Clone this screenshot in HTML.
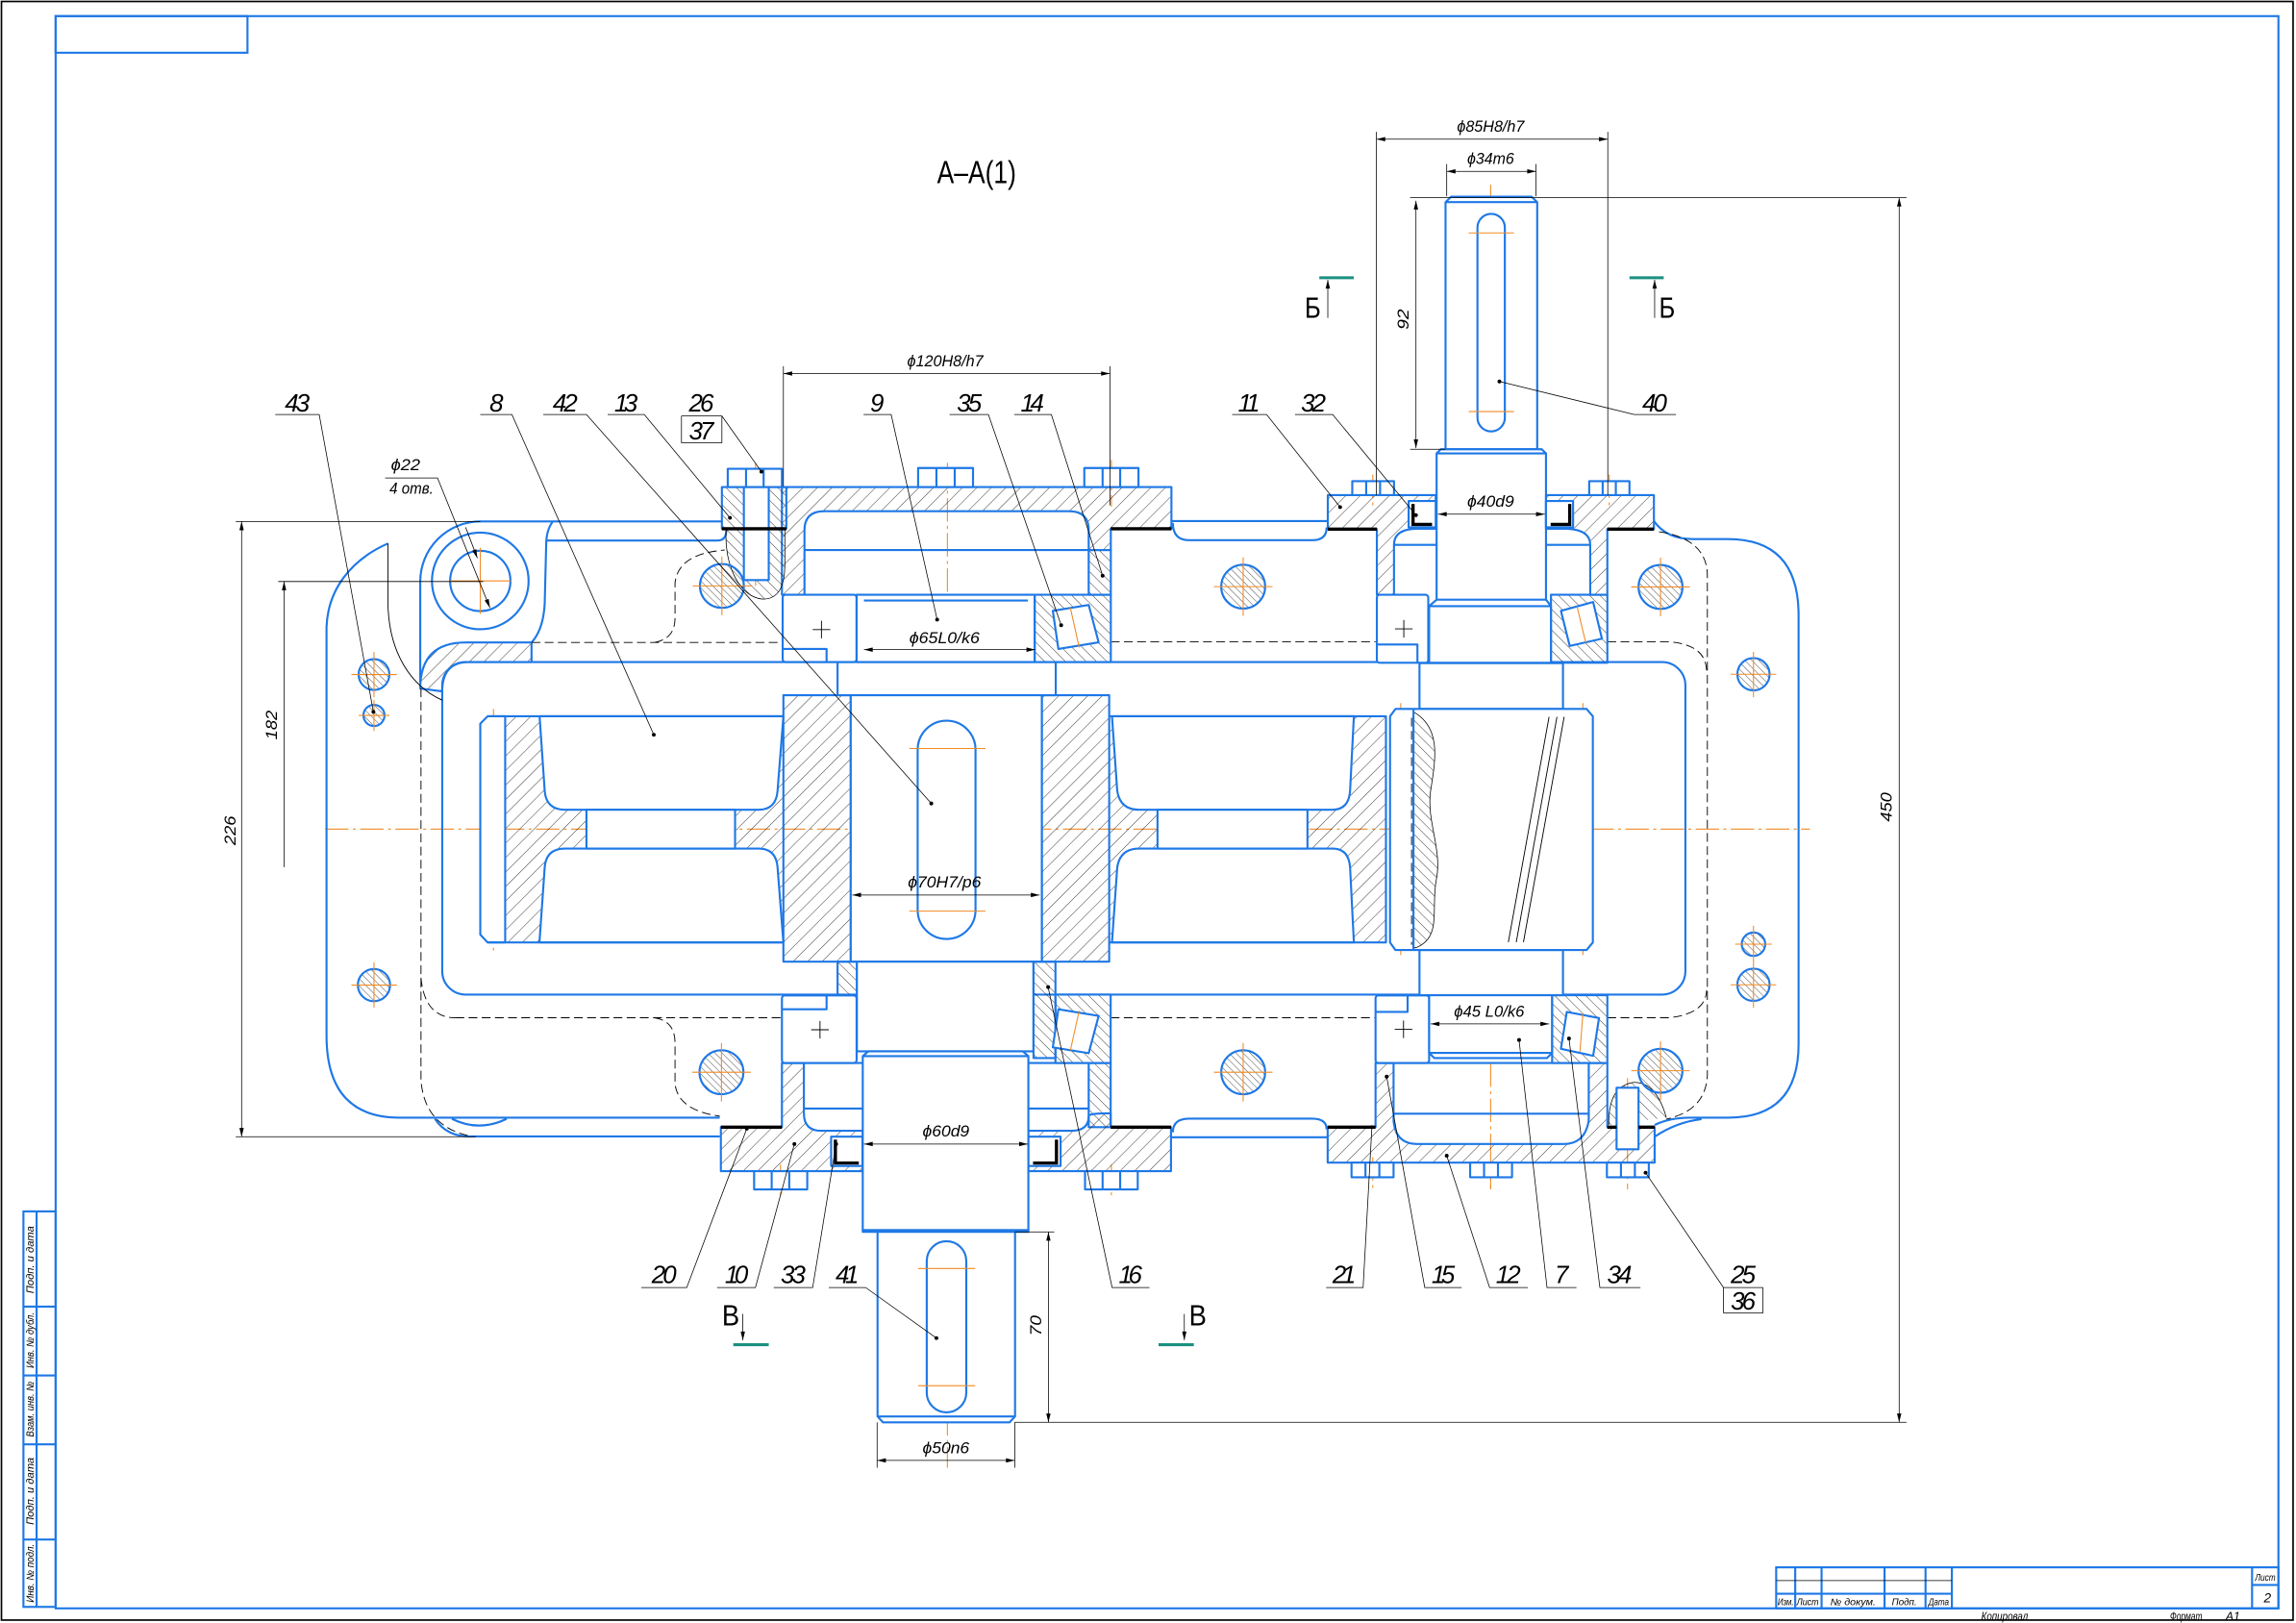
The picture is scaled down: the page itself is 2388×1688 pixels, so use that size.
<!DOCTYPE html>
<html><head><meta charset="utf-8"><style>
html,body{margin:0;padding:0;background:#fff;}
svg{display:block}
text{font-family:"Liberation Sans","DejaVu Sans",sans-serif;font-style:italic;fill:#000}
.u{font-style:normal}
</style></head><body>
<svg width="2388" height="1688" viewBox="0 0 1568 1108" preserveAspectRatio="none" xmlns="http://www.w3.org/2000/svg">
<defs>
<pattern id="h1" patternUnits="userSpaceOnUse" width="7" height="7" patternTransform="rotate(45)"><line x1="0" y1="0" x2="0" y2="7" stroke="#000" stroke-width="0.5"/></pattern>
<pattern id="h2" patternUnits="userSpaceOnUse" width="5" height="5" patternTransform="rotate(-45)"><line x1="0" y1="0" x2="0" y2="5" stroke="#000" stroke-width="0.5"/></pattern>
<pattern id="h3" patternUnits="userSpaceOnUse" width="3.4" height="3.4" patternTransform="rotate(-45)"><line x1="0" y1="0" x2="0" y2="3.4" stroke="#000" stroke-width="0.45"/></pattern>
<marker id="a" viewBox="0 0 8 4" refX="8" refY="2" markerWidth="6.5" markerHeight="3" markerUnits="userSpaceOnUse" orient="auto-start-reverse"><path d="M0,0L8,2L0,4z" fill="#000"/></marker>
</defs>

<!-- FRAME -->
<rect x="1" y="1" width="1565" height="1105" fill="none" stroke="#000" stroke-width="1.1"/>
<g fill="none" stroke="#1e78e6" stroke-width="1.4">
<rect x="38" y="11" width="1518" height="1087"/>
<rect x="38" y="11" width="131" height="25"/>
<rect x="16" y="827" width="22" height="270"/>
<path d="M25,827V1097M16,892H38M16,939H38M16,986H38M16,1051H38"/>
<rect x="1213" y="1070" width="343" height="28"/>
<path d="M1226,1070V1098M1244,1070V1098M1287,1070V1098M1315,1070V1098M1333,1070V1098M1538,1070V1098M1213,1088H1333M1538,1082H1556"/>
</g>
<path d="M1213,1079H1333" stroke="#000" stroke-width="0.5"/>
<g font-size="6.5">
<text x="1214" y="1096" textLength="11" lengthAdjust="spacingAndGlyphs">Изм.</text>
<text x="1227" y="1096" textLength="15" lengthAdjust="spacingAndGlyphs">Лист</text>
<text x="1250" y="1096" textLength="31" lengthAdjust="spacingAndGlyphs">№ докум.</text>
<text x="1292" y="1096" textLength="17" lengthAdjust="spacingAndGlyphs">Подп.</text>
<text x="1317" y="1096" textLength="14" lengthAdjust="spacingAndGlyphs">Дата</text>
<text x="1540" y="1079" textLength="14" lengthAdjust="spacingAndGlyphs">Лист</text>
</g>
<text x="1546" y="1094" font-size="9">2</text>
<text x="1353" y="1106" font-size="8" textLength="32" lengthAdjust="spacingAndGlyphs">Копировал</text>
<text x="1482" y="1106" font-size="8" textLength="22" lengthAdjust="spacingAndGlyphs">Формат</text>
<text x="1520" y="1106" font-size="8">A1</text>
<g font-size="7">
<text transform="translate(23,860) rotate(-90)" text-anchor="middle" textLength="46" lengthAdjust="spacingAndGlyphs">Подп. и дата</text>
<text transform="translate(23,915) rotate(-90)" text-anchor="middle" textLength="38" lengthAdjust="spacingAndGlyphs">Инв. № дубл.</text>
<text transform="translate(23,962) rotate(-90)" text-anchor="middle" textLength="38" lengthAdjust="spacingAndGlyphs">Взам. инв. №</text>
<text transform="translate(23,1018) rotate(-90)" text-anchor="middle" textLength="46" lengthAdjust="spacingAndGlyphs">Подп. и дата</text>
<text transform="translate(23,1074) rotate(-90)" text-anchor="middle" textLength="40" lengthAdjust="spacingAndGlyphs">Инв. № подл.</text>
</g>

<!-- CENTERLINES -->
<g stroke="#f08a24" stroke-width="0.7" fill="none" stroke-dasharray="16 3 2 3">
<path d="M222,566H1236"/>
<path d="M647,316V1002"/>
<path d="M1018,126V812"/>
<path d="M337,484V650M956.6,480V652M1081,480V652M452,538V592M843,538V592"/>
<path d="M516,316V400M759,314V346M937.5,324V346M1099,324V346M533,795V816M759,795V816M937.5,790V812M1018,790V812M1111.5,736V812"/>
</g>

<!-- HOUSING OUTLINES -->
<g fill="none" stroke="#1e78e6" stroke-width="1.4" stroke-linejoin="round">
<path d="M265,371C240,382 224,402 223,428L223,707Q223,763 273,763L491.5,763"/>
<path d="M297,763.8Q305,775.8 320.3,775.8L491.5,775.8"/>
<path d="M308.6,763.8Q327,773 346,763.8"/>
<path d="M287,466L287,397A41,41 0 0 1 328,356L493,356"/>
<path d="M373,369L490,369Q496,369 496,362"/>
<path d="M377.5,356Q373,362 373,372L372,412Q371,430 363,438.6"/>
<circle cx="328" cy="396.6" r="33"/>
<circle cx="328" cy="396.6" r="20.6"/>
<path fill="url(#h1)" d="M287,470Q287,438.6 318,438.6L363,438.6L363,452L320,452Q302,452 302,472Z"/>
<rect x="302" y="452" width="849" height="227" rx="16"/>
<!-- middle flanges -->
<path d="M800,355.7H907M801,357Q801,368.8 812,368.8L896,368.8Q906,368.8 906,360"/>
<path d="M800,776.4H907M801,773Q801,763.7 812,763.7L896,763.7Q906,763.7 906,771"/>
<!-- right housing -->
<path d="M1129.5,355.7Q1138,368 1156,368L1180,368Q1228.3,368 1228.3,420L1228.3,712.6Q1228.3,763 1180.4,763L1154.5,763Q1140,763 1130,768"/>
<path d="M1130,776Q1145,766 1162,764"/>
</g>
<path d="M265,371L265,414C266,445 280,468 302,478" fill="none" stroke="#000" stroke-width="0.6"/>

<!-- DASHED HIDDEN -->
<g fill="none" stroke="#000" stroke-width="0.6" stroke-dasharray="6 3">
<path d="M363,438.6L534.3,438.6"/>
<path d="M447,438.6Q461,436 461,422L461,398Q463,378 495,375.5"/>
<path d="M758.6,438.2L939.5,438.2"/>
<path d="M1097.7,438.2L1140,438.2Q1165,440 1165.5,458"/>
<path d="M1133,363Q1166,368 1166,393L1166,734Q1165,758 1138,764"/>
<path d="M311,694.8L534.9,694.8"/>
<path d="M447,694.8Q461,697 461,712L461,740Q463,758 491.5,762"/>
<path d="M758.5,694.8L939.4,694.8"/>
<path d="M1097.7,694.8L1140,694.8Q1165,692 1165.5,676"/>
<path d="M287.5,470L287.5,737.5Q290,770 322.7,775.8"/>
<path d="M287.5,667.5Q290,694.8 311,694.8"/>
</g>

<!-- MAIN PARTS -->
<g stroke="#1e78e6" stroke-width="1.4" stroke-linejoin="round" fill="#fff">
<!-- gear 8 left half -->
<rect x="345" y="489" width="190" height="154.4" fill="url(#h1)" stroke="none"/>
<path d="M368.5,489L372,540Q373,552.8 386,552.8L518,552.8Q530,552.8 531,540L535,489Z"/>
<path d="M368.4,643.4L372,592Q373,579.3 386,579.3L518,579.3Q530,579.3 531,592L535,643.4Z"/>
<rect x="400.5" y="552.8" width="101.5" height="26.5"/>
<path d="M333,489L345,489L345,643.4L333,643.4L328,638L328,494Z"/>
<path d="M333,489H535M333,643.4H535" fill="none"/>
<!-- gear 8 right half -->
<rect x="757.5" y="489" width="189" height="154.4" fill="url(#h1)" stroke="none"/>
<path d="M759.4,489L763,540Q765,552.8 778,552.8L910,552.8Q921,552.8 922,540L924.6,489Z"/>
<path d="M759.4,643.4L763,592Q765,579.3 778,579.3L910,579.3Q921,579.3 922,592L924.6,643.4Z"/>
<rect x="790.5" y="552.8" width="102.4" height="26.5"/>
<path d="M757.5,489H946.5V643.4H757.5" fill="none"/>
<!-- hubs and shaft -->
<rect x="572" y="452" width="149" height="22.6"/>
<rect x="535" y="474.6" width="46" height="181.9" fill="url(#h1)"/>
<rect x="581" y="474.6" width="130.5" height="181.9"/>
<rect x="711.5" y="474.6" width="46" height="181.9" fill="url(#h1)"/>
<rect x="626.7" y="492" width="39.5" height="149" rx="19.75"/>
<!-- pinion on right shaft -->
<rect x="969.4" y="452.7" width="98" height="31.3"/>
<rect x="969.4" y="648.6" width="98" height="30.8"/>
<path d="M953,484L1083.5,484L1087.8,489L1087.8,643.4L1083.5,648.6L953,648.6L949.3,643.4L949.3,489Z"/>
<path d="M965.3,486C985,497 980,520 977,540C974,560 985,580 981,600C977,620 985,640 967,647L965.3,647Z" fill="url(#h2)" stroke="#000" stroke-width="0.5"/>
<path d="M965.3,484V648.6" fill="none"/>

<!-- LEFT UNIT TOP -->
<path fill="url(#h1)" d="M534,332.5L800,332.5L800,361L758.6,361L758.6,375.5L743.5,375.5L743.5,362Q743.5,349 730,349L563,349Q549.4,349 549.4,362L549.4,406L534,406Z"/>
<rect x="743.5" y="375.5" width="15.1" height="30.5" fill="url(#h2)"/>
<path d="M549.4,375.5H743.5" fill="none"/>
<rect x="534.5" y="406" width="50.5" height="46" rx="2"/>
<path d="M534.5,443H564.5V452" fill="none"/>
<rect x="585" y="406" width="121.6" height="46"/>
<path d="M590,410H702" fill="none"/>
<rect x="706.6" y="406" width="52" height="46" fill="url(#h2)"/>
<path d="M719,417L743.5,413L750.3,438.5L722.8,443Z"/>
<!-- bolt flange 13 + lug -->
<path d="M496,361C494,385 505,408 521,409C533,409 536,398 536,385L536,361Z" fill="url(#h2)" stroke="#000" stroke-width="0.5"/>
<rect x="493" y="332.5" width="44" height="28.5" fill="url(#h2)"/>
<circle cx="493" cy="400" r="15" fill="url(#h3)"/>
<rect x="508" y="332.5" width="17" height="63.5"/>
<!-- bolt heads top left -->
<rect x="497" y="320" width="37" height="12.5"/>
<rect x="627" y="319.5" width="37.5" height="13"/>
<rect x="740.5" y="319.5" width="37" height="13"/>
<path d="M509.5,320V332.5M521.5,320V332.5M639.5,319.5V332.5M652,319.5V332.5M753,319.5V332.5M765,319.5V332.5" fill="none"/>

<!-- LEFT UNIT BOTTOM -->
<rect x="572" y="656.5" width="13.2" height="23" fill="url(#h2)"/>
<rect x="585.2" y="656.5" width="120.6" height="61.2"/>
<rect x="705.8" y="656.5" width="15" height="65.8" fill="url(#h2)"/>
<rect x="534" y="679.6" width="51" height="46.1" rx="2"/>
<path d="M534,689H564.5V679.6" fill="none"/>
<rect x="720.8" y="679" width="37.7" height="46.7" fill="url(#h2)"/>
<path d="M719,715L743.5,719L750.3,693.5L722.8,689Z"/>
<rect x="743.5" y="725.7" width="15" height="43.8" fill="url(#h2)"/>
<path d="M534,725.7H758.5" fill="none"/>
<path fill="url(#h1)" d="M492.3,769.5L534,769.5L534,725.7L549,725.7L549,760Q549,772 561,772L589.2,772L589.2,799.5L492.3,799.5Z"/>
<path fill="url(#h1)" d="M799.7,769.5L758.5,769.5L758.5,760Q743.5,760 743.5,762Q743.5,772 731.5,772L702.3,772L702.3,799.5L799.7,799.5Z"/>
<path d="M549,756.8H589.2M743.5,756.8H702.3" fill="none"/>
<rect x="567.6" y="776" width="21.4" height="20"/>
<rect x="702.3" y="776" width="22" height="20"/>
<path d="M589.2,839.8L589.2,721L593,717.7L698.5,717.7L702.3,721L702.3,839.8Z"/>
<path d="M589.2,721H702.3" fill="none"/>
<path d="M589.2,839.8H702.3L702.3,841H589.2Z"/>
<path d="M599.3,841L599.3,967L603,971L689.5,971L693.2,967L693.2,841Z"/>
<path d="M599.3,967H693.2" fill="none"/>
<rect x="632.9" y="847.4" width="27" height="116.8" rx="13.5"/>
<rect x="515" y="799.5" width="36.3" height="12.5"/>
<rect x="741" y="799.5" width="36" height="12.5"/>
<path d="M527,799.5V812M539,799.5V812M753,799.5V812M765,799.5V812" fill="none"/>

<!-- RIGHT UNIT TOP -->
<path d="M987.2,306.7L987.2,138L991,134.3L1046,134.3L1049.8,138L1049.8,306.7Z"/>
<path d="M987.2,138H1049.8" fill="none"/>
<rect x="1009" y="146" width="18.7" height="148.5" rx="9.35"/>
<path d="M984,306.7L1052.9,306.7L1055.8,309.5L1055.8,409.4L1059.2,413.8L1059.2,452.5L976,452.5L976,413.8L981.1,409.4L981.1,309.5Z"/>
<path d="M981.1,309.5H1055.8M981.1,409.4H1055.8M976,413.8H1059.2" fill="none"/>
<path fill="url(#h1)" d="M906.8,338L980.5,338L980.5,361L968,361Q952,361 952,372L952,406L940.3,406L940.3,361.2L906.8,361.2Z"/>
<path fill="url(#h1)" d="M1129.5,338L1055.8,338L1055.8,361L1068,361Q1086,361 1086,372L1086,406L1097.7,406L1097.7,361.2L1129.5,361.2Z"/>
<path d="M952,372H981.1M1055.8,372H1086" fill="none"/>
<rect x="962" y="342" width="18.5" height="18"/>
<rect x="1055.8" y="342" width="18.5" height="18"/>
<rect x="923.5" y="328.5" width="28.5" height="9.5"/>
<rect x="1085.3" y="328.5" width="27.5" height="9.5"/>
<path d="M933,328.5V338M942.5,328.5V338M1094.5,328.5V338M1103.5,328.5V338" fill="none"/>
<rect x="940.3" y="406" width="35.1" height="46.5" rx="2"/>
<path d="M940.3,440H968V452.5" fill="none"/>
<rect x="1059.2" y="406" width="38.5" height="46.5" fill="url(#h2)"/>
<path d="M1066,417L1088,411L1094,436L1072,441Z"/>

<!-- RIGHT UNIT BOTTOM -->
<rect x="939.4" y="679.6" width="36.6" height="46.1" rx="2"/>
<path d="M939.4,690.8H961.3V679.6" fill="none"/>
<path d="M976,679.4L1060,679.4L1060,718.8L1056.5,722.3L979.5,722.3L976,718.8Z"/>
<path d="M976,718.8H1060" fill="none"/>
<rect x="1060" y="679.4" width="37.7" height="46.3" fill="url(#h2)"/>
<path d="M1070,690.8L1092,695L1088,720.8L1066,716Z"/>
<path fill="url(#h1)" d="M906.7,769.5L939.4,769.5L939.4,725.7L951.7,725.7L951.7,765Q953,781 968,781L1068,781Q1082.4,781 1085,765L1085,725.7L1097.7,725.7L1097.7,769.5L1130,769.5L1130,793.7L906.7,793.7Z"/>
<path d="M951.7,760.3H1085M939.4,725.7H1097.7" fill="none"/>
<path d="M1098.7,768Q1098,742 1115,739Q1131,738 1138,763" fill="url(#h2)" stroke="#000" stroke-width="0.5"/>
<circle cx="1134" cy="731" r="15" fill="url(#h3)"/>
<rect x="1104" y="742.6" width="15" height="42"/>
<rect x="923" y="793.7" width="28.7" height="10"/>
<rect x="1004" y="793.7" width="28.6" height="10"/>
<rect x="1097.4" y="793.7" width="28.6" height="10"/>
<path d="M932.5,793.7V803.7M942,793.7V803.7M1013.5,793.7V803.7M1023,793.7V803.7M1107,793.7V803.7M1116.5,793.7V803.7" fill="none"/>

<!-- HOLES -->
<g fill="url(#h3)">
<circle cx="849" cy="400.5" r="15"/>
<circle cx="1134" cy="400.7" r="15"/>
<circle cx="492.7" cy="732" r="15"/>
<circle cx="849" cy="732" r="15"/>
<circle cx="255.4" cy="460.5" r="10.5"/>
<circle cx="255.4" cy="488.4" r="7.2"/>
<circle cx="255.4" cy="672.5" r="11"/>
<circle cx="1197.5" cy="460.3" r="11"/>
<circle cx="1197.5" cy="644.6" r="8"/>
<circle cx="1197.5" cy="672.3" r="11"/>
</g>
</g>

<!-- roller axis & hole crosses -->
<g stroke="#f08a24" stroke-width="0.7" fill="none">
<path d="M731,415L737,442M731,717L737,690M1077,414L1083,439M1079,718L1081,692"/>
<path d="M473,400H513M493,380V420M829,400.5H869M849,380.5V420.5M1114,400.7H1154M1134,380.7V420.7M472.7,732H512.7M492.7,712V752M829,732H869M849,712V752M1114,731H1154M1134,711V751"/>
<path d="M240,460.5H271M255.4,445V476M245,488.4H266M255.4,478V499M240,672.5H271M255.4,657V688M1182,460.3H1213M1197.5,445V476M1185,644.6H1210M1197.5,632V657M1182,672.3H1213M1197.5,657V688"/>
<path d="M621,511H673M621,622H673M627,866H666M627,946H666M1003,159H1034M1003,281H1034M307,396.6H349M328,374V419"/>
</g>

<!-- seals & split lines -->
<g fill="none" stroke="#000" stroke-width="2.2">
<path d="M493,361H537M758.6,361H800M906.8,361.2H940.3M1097.7,361.2H1129.5"/>
<path d="M492.3,769.5H534M758.5,769.5H799.7M906.7,769.5H939.4M1097.7,769.5H1104M1119,769.5H1130"/>
<path d="M965,344V358H978M1072,344V358H1059M570.5,778V794H586.5M721.5,778V794H705.5"/>
</g>
<g stroke="#000" stroke-width="0.6" fill="none">
<path d="M555,429.8H567M561,423.8V435.8M554,703H566M560,697V709M952.7,429.3H964.7M958.7,423.3V435.3M952.5,702.7H964.5M958.5,696.7V708.7"/>
<path d="M1057.9,489.4L1030.1,643.2M1063.3,489.4L1035.5,643.2M1068.2,489.4L1040.4,643.2"/>
<path d="M964,490V645" stroke-dasharray="6 3"/>
</g>

<!-- DIMENSIONS -->
<g stroke="#000" stroke-width="0.5" fill="none">
<path d="M535,250V332M758,250V345M940,90V338M1098,90V338M988,112V134M1049,112V134M963,135H1302M963,306.7H987M693,971H1302M693,841H720M599,971V1002M693,971V1002M161,356H328M161,776H325M190,397H330M197,356H327"/>
<path d="M535,255H758" marker-start="url(#a)" marker-end="url(#a)"/>
<path d="M940,95H1098" marker-start="url(#a)" marker-end="url(#a)"/>
<path d="M988,117H1049" marker-start="url(#a)" marker-end="url(#a)"/>
<path d="M590,443.5H707" marker-start="url(#a)" marker-end="url(#a)"/>
<path d="M582,611H710" marker-start="url(#a)" marker-end="url(#a)"/>
<path d="M590,781H702" marker-start="url(#a)" marker-end="url(#a)"/>
<path d="M599,997H693" marker-start="url(#a)" marker-end="url(#a)"/>
<path d="M982,351H1055" marker-start="url(#a)" marker-end="url(#a)"/>
<path d="M977,699H1058" marker-start="url(#a)" marker-end="url(#a)"/>
<path d="M1297,135V971" marker-start="url(#a)" marker-end="url(#a)"/>
<path d="M967,137V306" marker-start="url(#a)" marker-end="url(#a)"/>
<path d="M716,841V971" marker-start="url(#a)" marker-end="url(#a)"/>
<path d="M165,356V776" marker-start="url(#a)" marker-end="url(#a)"/>
<path d="M194,397V592" marker-start="url(#a)"/>
<path d="M263,326.3H298.8L334.6,415" marker-end="url(#a)"/>
<path d="M318,360L326,381" marker-end="url(#a)"/>
<!-- section marks arrows -->
<path d="M906.8,217V191" marker-end="url(#a)"/>
<path d="M1130,217V191" marker-end="url(#a)"/>
<path d="M507.3,897V915" marker-end="url(#a)"/>
<path d="M808.8,897V915" marker-end="url(#a)"/>
<!-- leaders top -->
<path d="M188,283H218L255,486M328,283H349.6L446.5,501.6M371,283H400.5L636,548.5M415,283H440L498.5,353.5M465.4,284H493L520,322M465.4,284V302.3H493V284M589.7,283H608.6L640,423M648.5,283H675L724.7,426.8M692.6,283H718L753,393M841.5,283H865L915.2,346.2M884.4,283H910.1L967,351.7M1144.6,283H1116L1024,260.4"/>
<!-- leaders bottom -->
<path d="M438,879H469L510,770.5M489.7,879H515.9L542.5,781M528.4,879H555L571,781M591.2,879H566M591.2,879L639.5,913.5M785,879H759.5L715.8,673.9M905.7,879H930.9L936.9,769.5M998.2,879H973L947,735M1043.4,879H1017.3L988,789M1076.6,879H1056.5L1037.4,710M1120.3,879H1092.6L1071.5,709M1204,879H1177L1123.8,800.6M1177,879V896.2H1204V879"/>
</g>
<g fill="#000">
<circle cx="255" cy="486" r="1.3"/><circle cx="446.5" cy="501.6" r="1.3"/><circle cx="636" cy="548.5" r="1.3"/><circle cx="498.5" cy="353.5" r="1.3"/><circle cx="520" cy="322" r="1.3"/><circle cx="640" cy="423" r="1.3"/><circle cx="724.7" cy="426.8" r="1.3"/><circle cx="753" cy="393" r="1.3"/><circle cx="915.2" cy="346.2" r="1.3"/><circle cx="967" cy="351.7" r="1.3"/><circle cx="1024" cy="260.4" r="1.3"/>
<circle cx="510" cy="770.5" r="1.3"/><circle cx="542.5" cy="781" r="1.3"/><circle cx="571" cy="781" r="1.3"/><circle cx="639.5" cy="913.5" r="1.3"/><circle cx="715.8" cy="673.9" r="1.3"/><circle cx="936.9" cy="769.5" r="1.3"/><circle cx="947" cy="735" r="1.3"/><circle cx="988" cy="789" r="1.3"/><circle cx="1037.4" cy="710" r="1.3"/><circle cx="1071.5" cy="709" r="1.3"/><circle cx="1123.8" cy="800.6" r="1.3"/>
</g>
<g stroke="#1a9080" stroke-width="2">
<path d="M901,189.6H924.5M1112.8,189.6H1136.2M500.8,918H525M791.2,918H815.3"/>
</g>

<!-- TEXTS -->
<text class="u" x="667" y="125" font-size="22" text-anchor="middle" textLength="54" lengthAdjust="spacingAndGlyphs">А–А(1)</text>
<g font-size="11">
<text x="645.5" y="250" text-anchor="middle" textLength="52" lengthAdjust="spacingAndGlyphs">ϕ120H8/h7</text>
<text x="645" y="439" text-anchor="middle" textLength="48" lengthAdjust="spacingAndGlyphs">ϕ65L0/k6</text>
<text x="645" y="606" text-anchor="middle" textLength="50" lengthAdjust="spacingAndGlyphs">ϕ70H7/p6</text>
<text x="646" y="776" text-anchor="middle" textLength="32" lengthAdjust="spacingAndGlyphs">ϕ60d9</text>
<text x="646" y="992" text-anchor="middle" textLength="32" lengthAdjust="spacingAndGlyphs">ϕ50n6</text>
<text x="1018" y="90" text-anchor="middle" textLength="46" lengthAdjust="spacingAndGlyphs">ϕ85H8/h7</text>
<text x="1018" y="112" text-anchor="middle" textLength="32" lengthAdjust="spacingAndGlyphs">ϕ34m6</text>
<text x="1018" y="346" text-anchor="middle" textLength="32" lengthAdjust="spacingAndGlyphs">ϕ40d9</text>
<text x="1017" y="694" text-anchor="middle" textLength="48" lengthAdjust="spacingAndGlyphs">ϕ45 L0/k6</text>
<text x="277" y="321" text-anchor="middle" textLength="20" lengthAdjust="spacingAndGlyphs">ϕ22</text>
<text x="281" y="337" text-anchor="middle" textLength="30" lengthAdjust="spacingAndGlyphs">4 отв.</text>
<text transform="translate(711,905) rotate(-90)" text-anchor="middle" textLength="14" lengthAdjust="spacingAndGlyphs">70</text>
<text transform="translate(962,218) rotate(-90)" text-anchor="middle" textLength="14" lengthAdjust="spacingAndGlyphs">92</text>
<text transform="translate(161,567) rotate(-90)" text-anchor="middle" textLength="20" lengthAdjust="spacingAndGlyphs">226</text>
<text transform="translate(189,495) rotate(-90)" text-anchor="middle" textLength="20" lengthAdjust="spacingAndGlyphs">182</text>
<text transform="translate(1292,551) rotate(-90)" text-anchor="middle" textLength="20" lengthAdjust="spacingAndGlyphs">450</text>
</g>
<g font-size="17" text-anchor="middle" lengthAdjust="spacingAndGlyphs">
<text x="203" y="281" textLength="17">43</text>
<text x="339" y="281" textLength="8">8</text>
<text x="386" y="281" textLength="17">42</text>
<text x="427.5" y="281" textLength="16">13</text>
<text x="479" y="281" textLength="17">26</text>
<text x="479" y="300" textLength="17">37</text>
<text x="599" y="281" textLength="8">9</text>
<text x="662" y="281" textLength="17">35</text>
<text x="705" y="281" textLength="16">14</text>
<text x="853" y="281" textLength="15">11</text>
<text x="897" y="281" textLength="17">32</text>
<text x="1130" y="281" textLength="17">40</text>
<text x="453.5" y="876" textLength="17">20</text>
<text x="503" y="876" textLength="16">10</text>
<text x="541.7" y="876" textLength="17">33</text>
<text x="578.6" y="876" textLength="16">41</text>
<text x="772" y="876" textLength="16">16</text>
<text x="918" y="876" textLength="16">21</text>
<text x="985.6" y="876" textLength="16">15</text>
<text x="1030" y="876" textLength="17">12</text>
<text x="1066.5" y="876" textLength="8">7</text>
<text x="1106" y="876" textLength="17">34</text>
<text x="1190.5" y="876" textLength="17">25</text>
<text x="1190.5" y="894" textLength="17">36</text>
</g>
<g font-size="20" class="u">
<text class="u" x="891" y="217" textLength="11" lengthAdjust="spacingAndGlyphs">Б</text>
<text class="u" x="1133" y="217" textLength="11" lengthAdjust="spacingAndGlyphs">Б</text>
<text class="u" x="493" y="905" textLength="12" lengthAdjust="spacingAndGlyphs">В</text>
<text class="u" x="812" y="905" textLength="12" lengthAdjust="spacingAndGlyphs">В</text>
</g>
</svg>
</body></html>
